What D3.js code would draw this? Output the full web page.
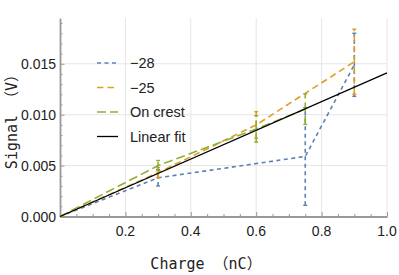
<!DOCTYPE html>
<html>
<head>
<meta charset="utf-8">
<script src="https://cdn.jsdelivr.net/npm/d3@7"></script>
<style>
  body { margin: 0; background: #fff; }
  .tick-label { font-family: "Liberation Sans", Arial, sans-serif; font-size: 14px; fill: #222; }
  .axis-title { font-family: "DejaVu Sans Mono", "Noto Sans CJK SC", monospace; font-size: 15px; fill: #222; }
  .legend-text { font-family: "Liberation Sans", Arial, sans-serif; font-size: 14.5px; fill: #222; }
</style>
</head>
<body>
<div id="chart"></div>
<script>
// series data: charge (nC), signal (V), error (V)
var chargeN28 = [0, 0.3, 0.75, 0.9],
    signalN28 = [0, 0.0038, 0.0059, 0.0149],
    errorN28 = [0, 0.0008, 0.0048, 0.0031];

var chargeN25 = [0, 0.3, 0.6, 0.9],
    signalN25 = [0, 0.0043, 0.0090, 0.0152],
    errorN25 = [0, 0.0005, 0.0013, 0.0032];

var chargeCrest = [0, 0.3, 0.6, 0.75],
    signalCrest = [0, 0.0050, 0.0086, 0.01055],
    errorCrest = [0, 0.0005, 0.0013, 0.0015];

var fitSlope = 0.0141; // V per nC
var fitRange = [0, 1.0];

var seriesNames = ["\u221228", "\u221225", "On crest", "Linear fit"];
var xTicks = [0.2, 0.4, 0.6, 0.8, 1.0];
var yTicks = [0, 0.005, 0.010, 0.015];

var width = 399, height = 275;
var colors = ["#5e81b5", "#e19c24", "#8fb032", "#000000"];
var dashes = ["4,3.5", "6.5,4", "9,4", null];

var svg = d3.select("#chart").append("svg")
    .attr("width", width)
    .attr("height", height);

var x = d3.scaleLinear().domain([0, 1]).range([60, 387]);
var y = d3.scaleLinear().domain([0, 0.0195]).range([216.5, 18]);

// grid
svg.selectAll(".vgrid")
    .data(xTicks)
    .enter().append("line")
    .attr("x1", function(d) { return x(d); })
    .attr("x2", function(d) { return x(d); })
    .attr("y1", y(0)).attr("y2", y(0.0195))
    .style("stroke", "#e6e6e6").style("stroke-width", 1);

svg.selectAll(".hgrid")
    .data(yTicks.slice(1))
    .enter().append("line")
    .attr("x1", x(0)).attr("x2", x(1))
    .attr("y1", function(d) { return y(d); })
    .attr("y2", function(d) { return y(d); })
    .style("stroke", "#e6e6e6").style("stroke-width", 1);

// axes
var xAxis = d3.axisBottom(x).tickValues(d3.range(0.05, 1.001, 0.05)).tickSize(0).tickFormat("");
var gx = svg.append("g").attr("transform", "translate(0," + y(0) + ")").call(xAxis);
gx.select(".domain").style("stroke", "#999").style("stroke-width", 1.8);
gx.selectAll(".tick line").attr("y2", function(d) {
    return Math.abs(Math.round(d * 5) - d * 5) < 1e-6 ? -4.5 : -2.5;
}).style("stroke", "#999");

var yAxis = d3.axisLeft(y).tickValues(d3.range(0.001, 0.0195, 0.001)).tickSize(0).tickFormat("");
var gy = svg.append("g").attr("transform", "translate(" + x(0) + ",0)").call(yAxis);
gy.select(".domain").style("stroke", "#999").style("stroke-width", 1.8);
gy.selectAll(".tick line").attr("x2", function(d) {
    return Math.abs(Math.round(d * 200) - d * 200) < 1e-6 ? 4.5 : 2.5;
}).style("stroke", "#999");

svg.selectAll(".xlabel")
    .data(xTicks)
    .enter().append("text")
    .attr("class", "tick-label")
    .attr("x", function(d) { return x(d); })
    .attr("y", y(0) + 19.5)
    .style("text-anchor", "middle")
    .text(function(d) { return d3.format(".1f")(d); });

svg.selectAll(".ylabel")
    .data(yTicks)
    .enter().append("text")
    .attr("class", "tick-label")
    .attr("x", x(0) - 4)
    .attr("y", function(d) { return y(d) + 5; })
    .style("text-anchor", "end")
    .text(function(d) { return d3.format(".3f")(d); });

svg.append("text").attr("class", "axis-title")
    .attr("x", 206).attr("y", 269)
    .style("text-anchor", "middle")
    .text("Charge \uff08nC\uff09");

svg.append("text").attr("class", "axis-title")
    .attr("transform", "translate(17,118)rotate(-90)")
    .style("text-anchor", "middle")
    .text("Signal \uff08V\uff09");

// data series
var series = [
    { xs: chargeN28, ys: signalN28, es: errorN28 },
    { xs: chargeN25, ys: signalN25, es: errorN25 },
    { xs: chargeCrest, ys: signalCrest, es: errorCrest }
];

var line = d3.line().x(function(d) { return x(d[0]); }).y(function(d) { return y(d[1]); });

series.forEach(function(s, k) {
    var pts = s.xs.map(function(v, i) { return [v, s.ys[i], s.es[i]]; });
    var g = svg.append("g");
    g.append("path")
        .datum(pts)
        .attr("d", line)
        .style("fill", "none")
        .style("stroke", colors[k])
        .style("stroke-width", 1.6)
        .style("stroke-dasharray", dashes[k]);

    var bars = g.selectAll(".err")
        .data(pts.filter(function(p) { return p[2] > 0; }))
        .enter().append("g");
    bars.append("line")
        .attr("x1", function(p) { return x(p[0]); })
        .attr("x2", function(p) { return x(p[0]); })
        .attr("y1", function(p) { return y(p[1] - p[2]); })
        .attr("y2", function(p) { return y(p[1] + p[2]); })
        .style("stroke", colors[k])
        .style("stroke-width", 1.6)
        .style("stroke-dasharray", dashes[k]);
    [-1, 1].forEach(function(sgn) {
        bars.append("line")
            .attr("x1", function(p) { return x(p[0]) - 2; })
            .attr("x2", function(p) { return x(p[0]) + 2; })
            .attr("y1", function(p) { return y(p[1] + sgn * p[2]); })
            .attr("y2", function(p) { return y(p[1] + sgn * p[2]); })
            .style("stroke", colors[k])
            .style("stroke-width", 1.4);
    });
});

// linear fit
svg.append("path")
    .datum(fitRange.map(function(v) { return [v, fitSlope * v]; }))
    .attr("d", line)
    .style("fill", "none")
    .style("stroke", colors[3])
    .style("stroke-width", 1.3);

// legend
var legend = svg.selectAll(".legend")
    .data(seriesNames)
    .enter().append("g")
    .attr("class", "legend")
    .attr("transform", function(d, i) { return "translate(97," + (63 + i * 24.5) + ")"; });

legend.append("line")
    .attr("x1", 0).attr("x2", 21)
    .attr("y1", 0).attr("y2", 0)
    .style("stroke", function(d, i) { return colors[i]; })
    .style("stroke-width", function(d, i) { return i === 3 ? 1.3 : 1.6; })
    .style("stroke-dasharray", function(d, i) { return dashes[i]; });

legend.append("text")
    .attr("class", "legend-text")
    .attr("x", 33)
    .attr("y", 5)
    .text(function(d) { return d; });
</script>
</body>
</html>
